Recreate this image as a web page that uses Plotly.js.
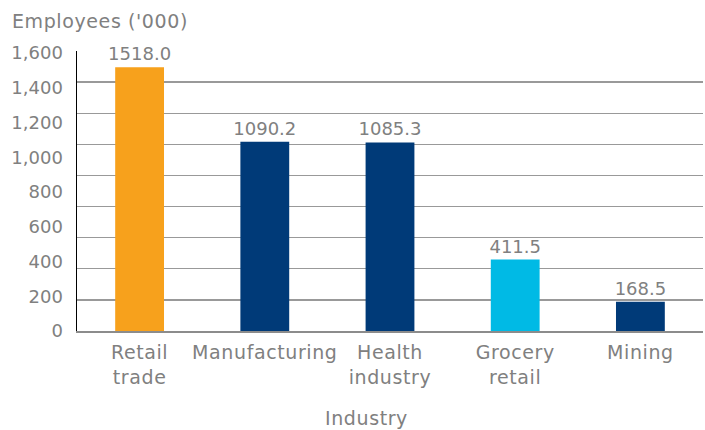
<!DOCTYPE html>
<html>
<head>
<meta charset="utf-8">
<script src="https://cdn.plot.ly/plotly-3.0.1.min.js"></script>
<style>
html,body{margin:0;padding:0;background:#fff;}
#chart{width:705px;height:430px;}
.xtick text, .annotation-text{letter-spacing:0.6px;}
</style>
</head>
<body>
<div id="chart"></div>
<script>
var categories = ["Retail<br>trade", "Manufacturing", "Health<br>industry", "Grocery<br>retail", "Mining"];
var employees = [1518.0, 1090.2, 1085.3, 411.5, 168.5];
var barColors = ["#F7A11C", "#003A78", "#003A78", "#00BAE5", "#003A78"];
var yTickVals = [0, 200, 400, 600, 800, 1000, 1200, 1400, 1600];
var yTickText = ["0", "200", "400", "600", "800", "1,000", "1,200", "1,400", "1,600"];

var fontFam = "DejaVu Sans, sans-serif";
var grey = "#808080";

var trace = {
  type: "bar",
  x: categories,
  y: employees,
  marker: {color: barColors},
  text: employees.map(function(v){ return v.toFixed(1); }),
  textposition: "outside",
  constraintext: "none",
  textfont: {family: fontFam, size: 18, color: grey},
  cliponaxis: false,
  hoverinfo: "none",
  width: 0.39
};

// invisible helper trace for the evenly spaced gridline axis
var gridTrace = {
  type: "scatter", x: [categories[0]], y: [0], yaxis: "y2",
  mode: "markers", marker: {opacity: 0}, hoverinfo: "skip", showlegend: false
};

var layout = {
  width: 705, height: 430,
  margin: {l: 77, r: 2, t: 51, b: 99},
  paper_bgcolor: "#fff", plot_bgcolor: "#fff",
  showlegend: false,
  font: {family: fontFam, color: grey, size: 18},
  xaxis: {
    type: "category",
    tickfont: {family: fontFam, size: 19, color: grey},
    showline: true, linecolor: "#8c8c8c", linewidth: 1.5,
    ticks: "", showgrid: false, zeroline: false,
    ticklabelstandoff: 4,
    fixedrange: true
  },
  yaxis: {
    range: [0, 1612],
    tickvals: yTickVals, ticktext: yTickText,
    tickfont: {family: fontFam, size: 18, color: grey},
    showgrid: false, zeroline: false,
    showline: true, linecolor: "#000", linewidth: 1.5,
    ticks: "", ticklabelstandoff: 9,
    fixedrange: true
  },
  yaxis2: {
    overlaying: "y", range: [0, 9], dtick: 1, tick0: 0,
    showgrid: true, gridcolor: "#999999", gridwidth: 1.3,
    showticklabels: false, zeroline: false, showline: false, ticks: "",
    fixedrange: true
  },
  annotations: [
    {text: "Employees ('000)", xref: "paper", yref: "paper", x: -0.107, y: 1.0,
     xanchor: "left", yanchor: "bottom", yshift: 17, showarrow: false,
     font: {family: fontFam, size: 19, color: grey}},
    {text: "Industry", xref: "paper", yref: "paper", x: 0.463, y: 0,
     xanchor: "center", yanchor: "middle", yshift: -87, showarrow: false,
     font: {family: fontFam, size: 19, color: grey}}
  ]
};

Plotly.newPlot("chart", [trace, gridTrace], layout, {displayModeBar: false, staticPlot: true});
</script>
</body>
</html>
